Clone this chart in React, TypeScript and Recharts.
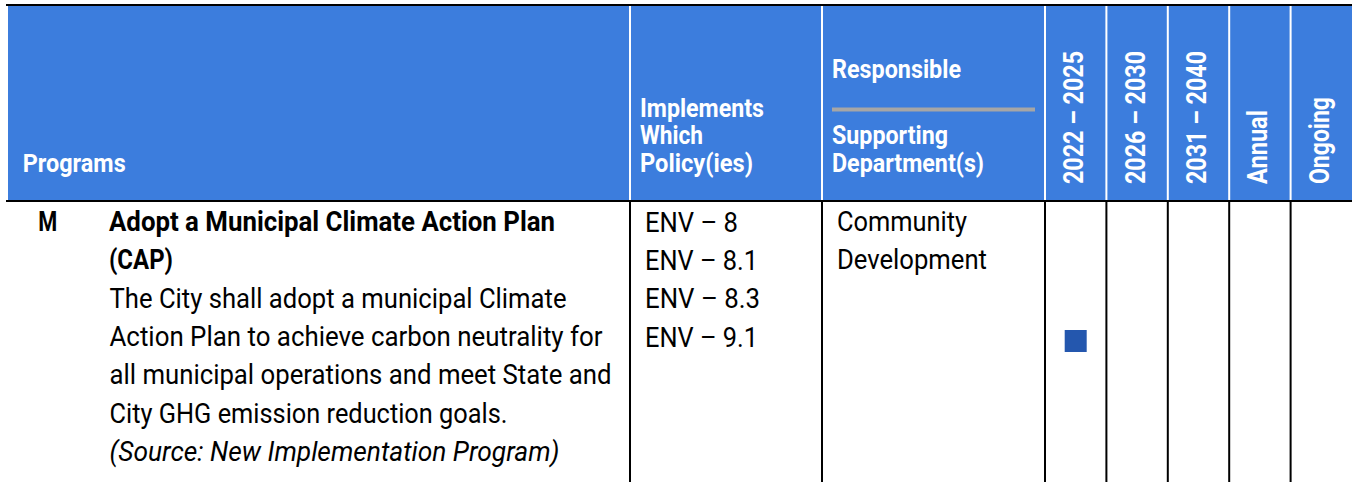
import React from 'react';
import { ScatterChart, Scatter, XAxis, YAxis } from 'recharts';

// Timeframe columns (x categories) and program rows (y categories)
const TIMEFRAMES = ['2022 – 2025', '2026 – 2030', '2031 – 2040', 'Annual', 'Ongoing'];
const PROGRAM_ROWS = ['M'];

// Which program is scheduled in which timeframe
const SCHEDULE = [{ program: 'M', timeframe: '2022 – 2025' }];

// Header labels
const HEADER_PROGRAMS = 'Programs';
const HEADER_POLICY = ['Implements', 'Which', 'Policy(ies)'];
const HEADER_RESPONSIBLE = 'Responsible';
const HEADER_SUPPORTING = ['Supporting', 'Department(s)'];

// Row contents
const TITLE_LINES = ['Adopt a Municipal Climate Action Plan', '(CAP)'];
const BODY_LINES = [
  'The City shall adopt a municipal Climate',
  'Action Plan to achieve carbon neutrality for',
  'all municipal operations and meet State and',
  'City GHG emission reduction goals.',
];
const SOURCE_LINE = '(Source: New Implementation Program)';
const POLICIES = ['ENV – 8', 'ENV – 8.1', 'ENV – 8.3', 'ENV – 9.1'];
const DEPARTMENTS = ['Community', 'Development'];

// layout (kept apart from the data)
const W = 1352;
const H = 482;
const HEADER_BLUE = '#3c7ddd';
const MARK_BLUE = '#2457ae';
const FONT = 'Roboto, "Open Sans", sans-serif';
const COL_LEFT = 1045;
const LINE_Y0 = 230.8;
const LINE_STEP = 38.4;

const TICK_LEN = [133, 133, 133, 74, 87];
const POLICY_HDR_LEN = [124, 63, 113];
const SUPPORT_HDR_LEN = [116, 152];
const TITLE_LEN = [446, 64];
const BODY_LEN = [457, 493, 502, 398];
const POLICY_LEN = [93, 113, 115, 113];
const DEPT_LEN = [130, 150];

const chartData = SCHEDULE.map((s) => ({
  x: TIMEFRAMES.indexOf(s.timeframe),
  y: PROGRAM_ROWS.indexOf(s.program),
  program: s.program,
}));

const fit = (len: number) => ({ textLength: len, lengthAdjust: 'spacingAndGlyphs' as const });

function TimeframeTick(props: any) {
  const { x, payload } = props;
  const i = Number(payload.value);
  const bx = x + 7.5;
  return (
    <text
      x={bx}
      y={184}
      transform={`rotate(-90 ${bx} 184)`}
      fill="#fff"
      fontFamily={FONT}
      fontWeight={700}
      fontSize={28.5}
      {...fit(TICK_LEN[i])}
    >
      {TIMEFRAMES[i]}
    </text>
  );
}

function Square(props: any) {
  const { cx, cy } = props;
  return <rect x={cx - 11} y={cy - 11} width={22} height={22} fill={MARK_BLUE} />;
}

function TableFrame() {
  const colW = (W - COL_LEFT) / TIMEFRAMES.length;
  const rules = [630, 822, ...TIMEFRAMES.map((_, i) => COL_LEFT + i * colW)];
  return (
    <g>
      <rect x={6} y={4} width={W - 6} height={2} fill="#000" />
      <rect x={8} y={6} width={W - 8} height={194} fill={HEADER_BLUE} />
      <rect x={6} y={200} width={W - 6} height={2} fill="#000" />
      {rules.map((rx, i) => (
        <g key={i}>
          <rect x={rx - 1} y={6} width={2} height={194} fill="#fff" />
          <rect x={rx - 1} y={202} width={2} height={H - 202} fill="#000" />
        </g>
      ))}
      <rect x={832} y={107.5} width={203} height={4} fill="#a6a6a6" />

      <g fill="#fff" fontFamily={FONT} fontWeight={700} fontSize={25.5}>
        <text x={22.7} y={172.3} fontSize={26.5} {...fit(103)}>{HEADER_PROGRAMS}</text>
        {HEADER_POLICY.map((t, i) => (
          <text key={t} x={640} y={116.5 + i * 27.6} {...fit(POLICY_HDR_LEN[i])}>{t}</text>
        ))}
        <text x={832} y={77.5} {...fit(129)}>{HEADER_RESPONSIBLE}</text>
        {HEADER_SUPPORTING.map((t, i) => (
          <text key={t} x={832} y={143.5 + i * 28} {...fit(SUPPORT_HDR_LEN[i])}>{t}</text>
        ))}
      </g>

      <g fill="#000" fontFamily={FONT} fontSize={27}>
        <text x={38.3} y={LINE_Y0} fontWeight={700} {...fit(19)}>{PROGRAM_ROWS[0]}</text>
        {TITLE_LINES.map((t, i) => (
          <text key={t} x={109} y={LINE_Y0 + i * LINE_STEP} fontWeight={700} {...fit(TITLE_LEN[i])}>{t}</text>
        ))}
        {BODY_LINES.map((t, i) => (
          <text key={t} x={109.5} y={LINE_Y0 + (i + 2) * LINE_STEP} {...fit(BODY_LEN[i])}>{t}</text>
        ))}
        <text x={109.5} y={LINE_Y0 + 6 * LINE_STEP} fontStyle="italic" {...fit(450)}>{SOURCE_LINE}</text>
        {POLICIES.map((t, i) => (
          <text key={t} x={645} y={LINE_Y0 + 0.8 + i * LINE_STEP} {...fit(POLICY_LEN[i])}>{t}</text>
        ))}
        {DEPARTMENTS.map((t, i) => (
          <text key={t} x={837} y={LINE_Y0 + i * LINE_STEP} {...fit(DEPT_LEN[i])}>{t}</text>
        ))}
      </g>
    </g>
  );
}

export default function App() {
  return (
    <div style={{ width: W, height: H, background: '#fff' }}>
      <style>{'body{margin:0}'}</style>
      <ScatterChart width={W} height={H} margin={{ top: 0, right: 0, bottom: 2, left: COL_LEFT }}>
        <TableFrame />
        <XAxis
          type="number"
          dataKey="x"
          orientation="top"
          height={202}
          domain={[-0.5, TIMEFRAMES.length - 0.5]}
          ticks={TIMEFRAMES.map((_, i) => i)}
          tick={<TimeframeTick />}
          axisLine={false}
          tickLine={false}
          interval={0}
        />
        <YAxis
          type="number"
          dataKey="y"
          hide
          reversed
          domain={[-0.5, PROGRAM_ROWS.length - 0.5]}
        />
        <Scatter data={chartData} shape={<Square />} isAnimationActive={false} />
      </ScatterChart>
    </div>
  );
}
